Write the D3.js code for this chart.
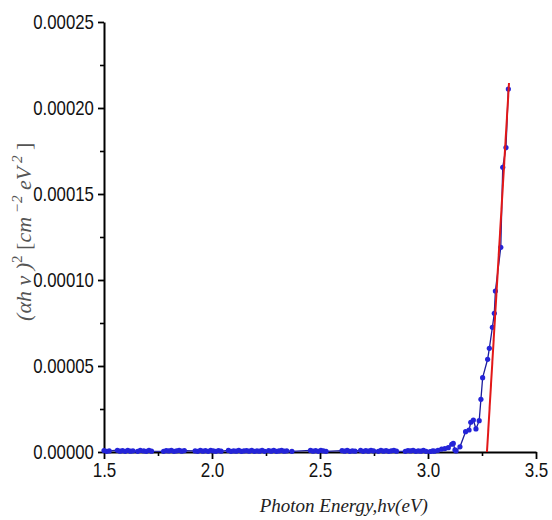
<!DOCTYPE html>
<html>
<head>
<meta charset="utf-8">
<script src="https://cdn.jsdelivr.net/npm/d3@7"></script>
<style>
  body { margin: 0; background: #fff; }
  .tick text { font-family: "Liberation Sans", Arial, sans-serif; font-size: 20px; fill: #111; }
</style>
</head>
<body>
<div id="chart"></div>
<script>
// photon energy (eV) and (alpha h nu)^2
var energy = [
    1.500, 1.512, 1.524, 1.562, 1.574, 1.586, 1.598, 1.610, 1.622, 1.634,
    1.656, 1.668, 1.684, 1.696, 1.708, 1.720, 1.776, 1.788, 1.800, 1.812,
    1.824, 1.836, 1.848, 1.860, 1.872, 1.922, 1.934, 1.946, 1.958, 1.970,
    1.982, 1.994, 2.006, 2.018, 2.030, 2.042, 2.076, 2.088, 2.100, 2.112,
    2.124, 2.136, 2.148, 2.160, 2.172, 2.184, 2.196, 2.208, 2.220, 2.232,
    2.244, 2.262, 2.274, 2.286, 2.298, 2.310, 2.322, 2.334, 2.346, 2.370,
    2.456, 2.468, 2.480, 2.492, 2.504, 2.516, 2.528, 2.602, 2.614, 2.626,
    2.638, 2.650, 2.662, 2.688, 2.700, 2.712, 2.724, 2.736, 2.748, 2.770,
    2.782, 2.794, 2.806, 2.818, 2.830, 2.842, 2.854, 2.895, 2.907, 2.919,
    2.931, 2.943, 2.955, 2.967, 2.979, 2.991, 3.010, 3.022, 3.030, 3.046,
    3.063, 3.078, 3.094, 3.110, 3.117, 3.125, 3.130, 3.148, 3.174, 3.190,
    3.198, 3.210, 3.222, 3.237, 3.245, 3.253, 3.276, 3.284, 3.298, 3.307,
    3.312, 3.337, 3.346, 3.361, 3.372
];
var absorb = [
    0.0000008, 0.0000004, 0.0000006, 0.0000010, 0.0000005, 0.0000008, 0.0000004, 0.0000009, 0.0000005, 0.0000007,
    0.0000004, 0.0000009, 0.0000006, 0.0000004, 0.0000010, 0.0000005, 0.0000004, 0.0000008, 0.0000006, 0.0000009,
    0.0000004, 0.0000007, 0.0000010, 0.0000005, 0.0000008, 0.0000006, 0.0000004, 0.0000009, 0.0000005, 0.0000008,
    0.0000004, 0.0000010, 0.0000006, 0.0000004, 0.0000008, 0.0000005, 0.0000009, 0.0000004, 0.0000007, 0.0000005,
    0.0000010, 0.0000004, 0.0000006, 0.0000008, 0.0000005, 0.0000009, 0.0000004, 0.0000007, 0.0000005, 0.0000010,
    0.0000004, 0.0000008, 0.0000005, 0.0000009, 0.0000004, 0.0000006, 0.0000010, 0.0000005, 0.0000007, 0.0000004,
    0.0000009, 0.0000005, 0.0000008, 0.0000004, 0.0000010, 0.0000006, 0.0000004, 0.0000008, 0.0000005, 0.0000009,
    0.0000004, 0.0000007, 0.0000005, 0.0000010, 0.0000004, 0.0000008, 0.0000005, 0.0000009, 0.0000006, 0.0000004,
    0.0000010, 0.0000005, 0.0000008, 0.0000004, 0.0000007, 0.0000009, 0.0000005, 0.0000004, 0.0000008, 0.0000006,
    0.0000010, 0.0000004, 0.0000007, 0.0000005, 0.0000009, 0.0000004, 0.0000003, 0.0000006, 0.0000005, 0.0000010,
    0.0000017, 0.0000020, 0.0000025, 0.0000045, 0.0000050, 0.0000012, 0.0000006, 0.0000030, 0.0000118, 0.0000128,
    0.0000173, 0.0000186, 0.0000134, 0.0000182, 0.0000306, 0.0000432, 0.0000539, 0.0000603, 0.0000725, 0.0000806,
    0.0000936, 0.0001190, 0.0001655, 0.0001770, 0.0002110
];
// linear fit used for the band gap
var fitEnergy = [3.273, 3.375];
var fitAbsorb = [0, 0.0002145];

var xTicks = [1.5, 2.0, 2.5, 3.0, 3.5];
var xMinor = [1.75, 2.25, 2.75, 3.25];
var yTicks = [0, 0.00005, 0.0001, 0.00015, 0.0002, 0.00025];
var yMinor = [0.000025, 0.000075, 0.000125, 0.000175, 0.000225];

var points = energy.map(function (e, i) { return { x: e, y: absorb[i] }; });
var fit = fitEnergy.map(function (e, i) { return { x: e, y: fitAbsorb[i] }; });

var width = 552, height = 520;
var margin = { top: 22, right: 16, bottom: 68, left: 104 };
var w = width - margin.left - margin.right;
var h = height - margin.top - margin.bottom;

var svg = d3.select("#chart").append("svg")
    .attr("width", width)
    .attr("height", height);
var g = svg.append("g")
    .attr("transform", "translate(" + margin.left + "," + margin.top + ")");

var x = d3.scaleLinear().domain([1.5, 3.5]).range([0, w]);
var y = d3.scaleLinear().domain([0, 0.00025]).range([h, 0]);

// minor ticks first so the major ones sit on top
g.append("g")
    .attr("transform", "translate(0," + h + ")")
    .call(d3.axisBottom(x).tickValues(xMinor).tickSize(4).tickFormat(""))
    .call(function (s) { s.select(".domain").remove(); s.selectAll("line").attr("stroke-width", 1.6); });
g.append("g")
    .call(d3.axisLeft(y).tickValues(yMinor).tickSize(4).tickFormat(""))
    .call(function (s) { s.select(".domain").remove(); s.selectAll("line").attr("stroke-width", 1.6); });

var xAxis = g.append("g")
    .attr("transform", "translate(0," + h + ")")
    .call(d3.axisBottom(x).tickValues(xTicks).tickSize(7).tickSizeOuter(0).tickPadding(4).tickFormat(d3.format(".1f")));
var yAxis = g.append("g")
    .call(d3.axisLeft(y).tickValues(yTicks).tickSize(6).tickSizeOuter(0).tickPadding(4).tickFormat(d3.format(".5f")));
[xAxis, yAxis].forEach(function (a) {
    a.select(".domain").attr("stroke-width", 2);
    a.selectAll(".tick line").attr("stroke-width", 1.8);
});
// the labels in the picture are a condensed face: squeeze them sideways
xAxis.selectAll(".tick text").attr("transform", "scale(0.85,1)");
yAxis.selectAll(".tick text")
    .attr("x", -12)
    .attr("transform", "scale(0.84,1)");

// data line and markers
g.append("path")
    .datum(points)
    .attr("fill", "none")
    .attr("stroke", "#1c1c9c")
    .attr("stroke-width", 1.3)
    .attr("d", d3.line()
        .x(function (d) { return x(d.x); })
        .y(function (d) { return y(d.y); }));

g.selectAll(".pt")
    .data(points)
    .enter()
    .append("circle")
    .attr("class", "pt")
    .attr("cx", function (d) { return x(d.x); })
    .attr("cy", function (d) { return y(d.y); })
    .attr("r", 2.6)
    .attr("fill", "#2424d8");

// fitted line
g.append("path")
    .datum(fit)
    .attr("fill", "none")
    .attr("stroke", "#e21818")
    .attr("stroke-width", 2)
    .attr("d", d3.line()
        .x(function (d) { return x(d.x); })
        .y(function (d) { return y(d.y); }));

// axis titles
svg.append("text")
    .attr("x", margin.left + x(2.61))
    .attr("y", 512)
    .attr("text-anchor", "middle")
    .style("font-family", "'Liberation Serif', 'Times New Roman', serif")
    .style("font-style", "italic")
    .style("font-size", "19px")
    .attr("fill", "#222")
    .text("Photon Energy,h\u03bd(eV)");

var yt = svg.append("text")
    .attr("transform", "translate(31," + (margin.top + y(0.000128)) + ") rotate(-90)")
    .attr("text-anchor", "middle")
    .style("font-family", "'Liberation Serif', 'Times New Roman', serif")
    .style("font-style", "italic")
    .style("font-size", "22px")
    .attr("fill", "#555");
yt.append("tspan").text("(\u03b1h \u03bd )");
yt.append("tspan").attr("dy", -9).style("font-size", "15px").style("font-style", "normal").text("2");
yt.append("tspan").attr("dy", 9).style("font-style", "normal").text(" [");
yt.append("tspan").text("cm");
yt.append("tspan").attr("dy", -9).style("font-size", "15px").text(" \u22122");
yt.append("tspan").attr("dy", 9).text(" eV");
yt.append("tspan").attr("dy", -9).style("font-size", "15px").text(" 2");
yt.append("tspan").attr("dy", 9).style("font-style", "normal").text(" ]");
</script>
</body>
</html>
